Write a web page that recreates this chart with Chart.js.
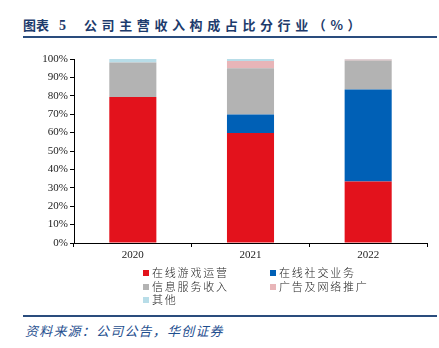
<!DOCTYPE html>
<html>
<head>
<meta charset="utf-8">
<script src="https://cdn.jsdelivr.net/npm/chart.js@4.4.0/dist/chart.umd.min.js"></script>
<style>
  body { margin: 0; width: 439px; height: 348px; background: #fff; position: relative; overflow: hidden; }
  #title { position: absolute; left: 23px; top: 15px; font-family: "Noto Sans CJK SC"; font-weight: bold; font-size: 13px; color: #1d3b6c; white-space: nowrap; }
  #title .num { margin-left: 10px; margin-right: 18px; font-family: "Liberation Serif"; font-size: 14px; }
  #title .txt { letter-spacing: 4.6px; }
  .rule { position: absolute; left: 23px; width: 414px; height: 2px; background: #2a4c7d; }
  #wrap { position: absolute; left: 0; top: 45px; width: 439px; height: 220px; }
  #legend { position: absolute; left: 143px; top: 265px; font-family: "Noto Sans CJK SC"; font-weight: 300; font-size: 11px; color: #222; letter-spacing: 1.8px; }
  .item { position: absolute; white-space: nowrap; height: 14px; line-height: 14px; }
  .box { display: inline-block; width: 6px; height: 6px; margin-right: 3px; vertical-align: 1px; }
  #source { position: absolute; left: 25px; top: 321px; font-family: "Noto Sans CJK SC"; font-size: 13px; font-style: italic; color: #1f4f8f; letter-spacing: 1.2px; white-space: nowrap; }
</style>
</head>
<body>
<div id="title">图表<span class="num">5</span><span class="txt">公司主营收入构成占比分行业（%）</span></div>
<div class="rule" style="top:36px"></div>
<div id="wrap"><canvas id="chart" width="439" height="220"></canvas></div>
<div id="legend"></div>
<div class="rule" style="top:315px"></div>
<div id="source">资料来源：公司公告，华创证券</div>
<script>
const years = ["2020", "2021", "2022"];
const seriesNames = ["在线游戏运营", "在线社交业务", "信息服务收入", "广告及网络推广", "其他"];
const onlineGames = [79.4, 59.8, 33.4];
const onlineSocial = [0, 10.0, 50.0];
const infoServices = [18.7, 25.2, 15.8];
const advertising = [0, 3.9, 0.5];
const others = [1.9, 1.1, 0.3];
const colors = ["#e3121c", "#0060b6", "#b3b3b3", "#e8b5b8", "#b8dde8"];

const values = [onlineGames, onlineSocial, infoServices, advertising, others];

const datasets = seriesNames.map((name, i) => ({
    label: name,
    data: values[i],
    backgroundColor: colors[i],
    borderWidth: 0,
    barPercentage: 0.4,
    categoryPercentage: 1.0
}));

new Chart(document.getElementById("chart"), {
    type: "bar",
    data: { labels: years, datasets },
    options: {
        responsive: false,
        animation: false,
        layout: { padding: { top: 14, right: 12, left: 0, bottom: 0 } },
        plugins: { legend: { display: false }, tooltip: { enabled: false } },
        scales: {
            x: {
                stacked: true,
                border: { color: "#000", width: 1 },
                grid: { offset: true, drawOnChartArea: false, drawTicks: true, tickLength: 4, color: "#000" },
                ticks: { color: "#222", padding: 2, font: { family: "Liberation Serif", size: 11 } },
                afterFit: scale => { scale.height = 22; }
            },
            y: {
                stacked: true,
                min: 0,
                max: 100,
                border: { color: "#000", width: 1 },
                grid: { drawOnChartArea: false, drawTicks: true, tickLength: 4, color: "#000" },
                ticks: { stepSize: 10, color: "#222", padding: 2, font: { family: "Liberation Serif", size: 11 }, callback: v => v + "%" },
                afterFit: scale => { scale.width = 74; }
            }
        }
    }
});

// legend in two columns, like the original
const legend = document.getElementById("legend");
const legendPos = [[0, 0], [127, 0], [0, 13.5], [127, 13.5], [0, 27]];
seriesNames.forEach((name, i) => {
    const item = document.createElement("div");
    item.className = "item";
    item.style.left = legendPos[i][0] + "px";
    item.style.top = legendPos[i][1] + "px";
    item.innerHTML = `<span class="box" style="background:${colors[i]}"></span>${name}`;
    legend.appendChild(item);
});
</script>
</body>
</html>
